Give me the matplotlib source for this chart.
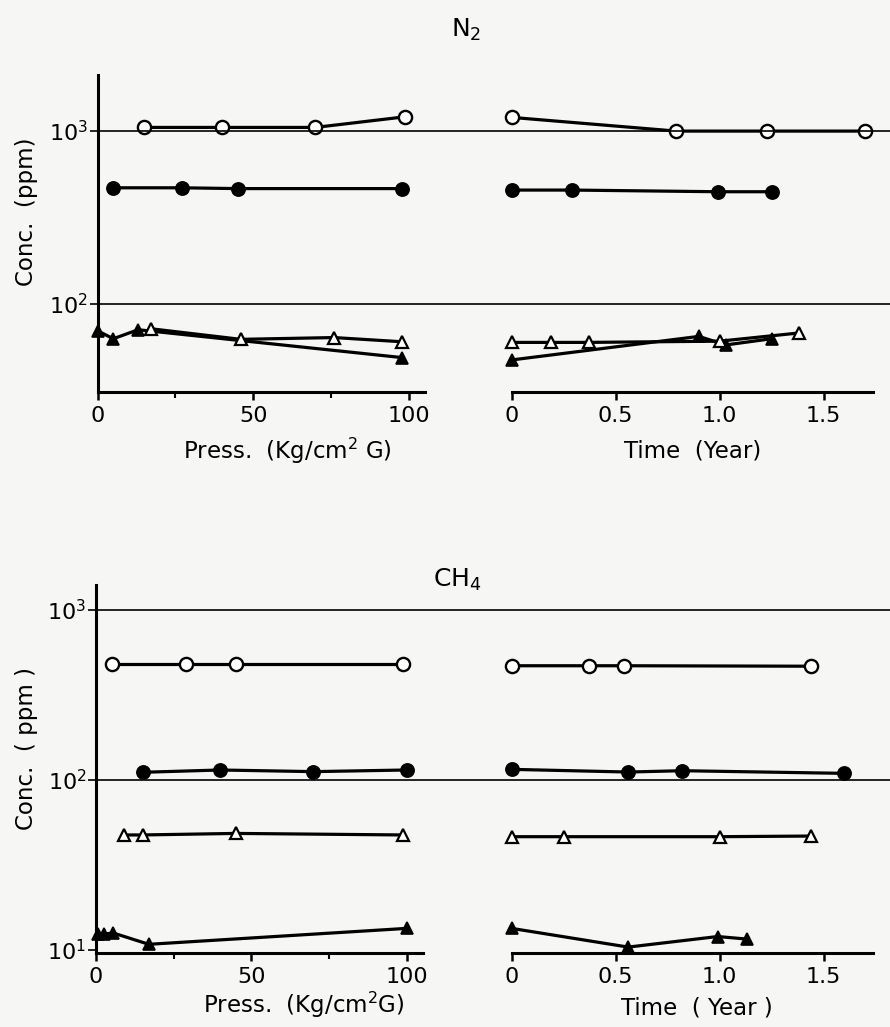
import matplotlib
matplotlib.use('Agg')
import matplotlib.pyplot as plt
from matplotlib.lines import Line2D
from matplotlib.transforms import blended_transform_factory
from matplotlib.ticker import FixedLocator, NullLocator

# ---------------- data ----------------
# N2 vs pressure (Kg/cm2 G)
n2_p_ocirc_x = [15, 40, 70, 99]
n2_p_ocirc_y = [1050, 1050, 1050, 1210]
n2_p_fcirc_x = [5, 27, 45, 98]
n2_p_fcirc_y = [470, 470, 465, 465]
n2_p_otri_x = [17, 46, 76, 98]
n2_p_otri_y = [72, 62.5, 64, 60.5]
n2_p_ftri_x = [0, 5, 13, 98]
n2_p_ftri_y = [70, 63, 71, 49]

# N2 vs time (year)
n2_t_ocirc_x = [0, 0.79, 1.23, 1.70]
n2_t_ocirc_y = [1200, 1000, 1000, 1000]
n2_t_fcirc_x = [0, 0.29, 0.99, 1.25]
n2_t_fcirc_y = [456, 456, 446, 446]
n2_t_otri_x = [0, 0.19, 0.37, 1.0, 1.38]
n2_t_otri_y = [60, 60, 60, 61, 68]
n2_t_ftri_x = [0, 0.9, 1.03, 1.25]
n2_t_ftri_y = [47.5, 65, 58, 63]

# CH4 vs pressure
ch4_p_ocirc_x = [5, 29, 45, 99]
ch4_p_ocirc_y = [481, 481, 481, 481]
ch4_p_fcirc_x = [15, 40, 70, 100]
ch4_p_fcirc_y = [111, 114.5, 112, 114.5]
ch4_p_otri_x = [9, 15, 45, 99]
ch4_p_otri_y = [47.5, 47.5, 48.5, 47.5]
ch4_p_ftri_x = [0.5, 2.5, 5.5, 17, 100]
ch4_p_ftri_y = [12.4, 12.4, 12.6, 10.8, 13.4]

# CH4 vs time
ch4_t_ocirc_x = [0, 0.37, 0.54, 1.44]
ch4_t_ocirc_y = [470, 470, 470, 467]
ch4_t_fcirc_x = [0, 0.56, 0.82, 1.6]
ch4_t_fcirc_y = [115.5, 111.4, 113.4, 109.4]
ch4_t_otri_x = [0, 0.25, 1.0, 1.44]
ch4_t_otri_y = [46.4, 46.4, 46.4, 46.8]
ch4_t_ftri_x = [0, 0.56, 0.99, 1.13]
ch4_t_ftri_y = [13.4, 10.4, 12.0, 11.6]

press_ticks = [0, 50, 100]
press_minor = [25, 75]
time_ticks = [0, 0.5, 1.0, 1.5]
time_ticklabels = ['0', '0.5', '1.0', '1.5']

# ---------------- figure ----------------
plt.rcParams['font.family'] = ['DejaVu Sans']
plt.rcParams['mathtext.fontset'] = 'dejavusans'

W, H = 890, 1027
BG = '#f6f6f4'
fig = plt.figure(figsize=(W / 100, H / 100), dpi=100, facecolor=BG)


def rect(l, r, t, b):
    return [l / W, 1 - b / H, (r - l) / W, (b - t) / H]


ax_tl = fig.add_axes(rect(97.7, 425, 75, 392))
ax_tr = fig.add_axes(rect(511.7, 872.7, 75, 392))
ax_bl = fig.add_axes(rect(96, 423, 585, 952.7))
ax_br = fig.add_axes(rect(511.7, 872.7, 585, 952.7))

LW = 2.3
styles = {
    'oc': dict(marker='o', mfc='white', mec='black', ms=9.5, mew=1.7),
    'fc': dict(marker='o', mfc='black', mec='black', ms=9.5, mew=1.2),
    'ot': dict(marker='^', mfc='white', mec='black', ms=8.5, mew=1.6),
    'ft': dict(marker='^', mfc='black', mec='black', ms=8.5, mew=1.2),
}


def plot_series(ax, x, y, key):
    ax.plot(x, y, color='black', lw=LW, clip_on=False, zorder=3, **styles[key])


# top-left
plot_series(ax_tl, n2_p_ocirc_x, n2_p_ocirc_y, 'oc')
plot_series(ax_tl, n2_p_fcirc_x, n2_p_fcirc_y, 'fc')
plot_series(ax_tl, n2_p_ftri_x, n2_p_ftri_y, 'ft')
plot_series(ax_tl, n2_p_otri_x, n2_p_otri_y, 'ot')
# top-right
plot_series(ax_tr, n2_t_ocirc_x, n2_t_ocirc_y, 'oc')
plot_series(ax_tr, n2_t_fcirc_x, n2_t_fcirc_y, 'fc')
plot_series(ax_tr, n2_t_ftri_x, n2_t_ftri_y, 'ft')
plot_series(ax_tr, n2_t_otri_x, n2_t_otri_y, 'ot')
# bottom-left
plot_series(ax_bl, ch4_p_ocirc_x, ch4_p_ocirc_y, 'oc')
plot_series(ax_bl, ch4_p_fcirc_x, ch4_p_fcirc_y, 'fc')
plot_series(ax_bl, ch4_p_otri_x, ch4_p_otri_y, 'ot')
plot_series(ax_bl, ch4_p_ftri_x, ch4_p_ftri_y, 'ft')
# bottom-right
plot_series(ax_br, ch4_t_ocirc_x, ch4_t_ocirc_y, 'oc')
plot_series(ax_br, ch4_t_fcirc_x, ch4_t_fcirc_y, 'fc')
plot_series(ax_br, ch4_t_otri_x, ch4_t_otri_y, 'ot')
plot_series(ax_br, ch4_t_ftri_x, ch4_t_ftri_y, 'ft')

TICK_FS = 16

for ax in (ax_tl, ax_tr, ax_bl, ax_br):
    ax.set_yscale('log')
    ax.patch.set_visible(False)
    ax.spines['top'].set_visible(False)
    ax.spines['right'].set_visible(False)
    ax.spines['bottom'].set_linewidth(2.2)
    ax.spines['left'].set_linewidth(2.2)
    ax.tick_params(axis='x', which='major', direction='out', length=6, width=1.8,
                   labelsize=TICK_FS, pad=4)
    ax.tick_params(axis='x', which='minor', direction='out', length=4, width=1.5)
    ax.yaxis.set_minor_locator(NullLocator())

ax_tl.set_ylim(31, 2110)
ax_tr.set_ylim(31, 2110)
ax_bl.set_ylim(9.64, 1403)
ax_br.set_ylim(9.64, 1403)

for ax in (ax_tl, ax_bl):
    ax.set_xlim(0, 105.3)
    ax.xaxis.set_major_locator(FixedLocator(press_ticks))
    ax.xaxis.set_minor_locator(FixedLocator(press_minor))
    ax.set_xticklabels([str(v) for v in press_ticks])
    ax.tick_params(axis='y', which='major', direction='out', length=6, width=1.2,
                   labelsize=TICK_FS, pad=1)

for ax in (ax_tr, ax_br):
    ax.set_xlim(0, 1.736)
    ax.xaxis.set_major_locator(FixedLocator(time_ticks))
    ax.xaxis.set_minor_locator(NullLocator())
    ax.set_xticklabels(time_ticklabels)
    ax.spines['left'].set_visible(False)
    ax.yaxis.set_major_locator(NullLocator())
    ax.tick_params(axis='y', which='both', left=False, labelleft=False)

ax_tl.yaxis.set_major_locator(FixedLocator([100, 1000]))
ax_tl.set_yticklabels(['$10^2$', '$10^3$'])
ax_bl.yaxis.set_major_locator(FixedLocator([10, 100, 1000]))
ax_bl.set_yticklabels(['$10^1$', '$10^2$', '$10^3$'])

# horizontal reference lines spanning to the right edge
for ax, x0, levels in ((ax_tl, 97.7, [100, 1000]), (ax_bl, 96, [100, 1000])):
    tr = blended_transform_factory(fig.transFigure, ax.transData)
    for lv in levels:
        fig.add_artist(Line2D([x0 / W, 1.0], [lv, lv], transform=tr,
                              color='black', lw=1.2, zorder=1))


def ftext(x, y, s, **kw):
    fig.text(x / W, 1 - y / H, s, ha='center', va='center', **kw)


ftext(466, 30, 'N$_2$', fontsize=18)
ftext(457, 580, 'CH$_4$', fontsize=18)
ftext(27, 212, 'Conc.  (ppm)', fontsize=16.5, rotation=90)
ftext(27, 748, 'Conc.  ( ppm )', fontsize=16.5, rotation=90)
ftext(287, 451, 'Press.  (Kg/cm$^2$ G)', fontsize=16.5)
ftext(693, 451, 'Time  (Year)', fontsize=16.5)
ftext(304, 1005, 'Press.  (Kg/cm$^2$G)', fontsize=16.5)
ftext(697, 1008, 'Time  ( Year )', fontsize=16.5)

fig.savefig('out.png', dpi=100, facecolor=BG)
